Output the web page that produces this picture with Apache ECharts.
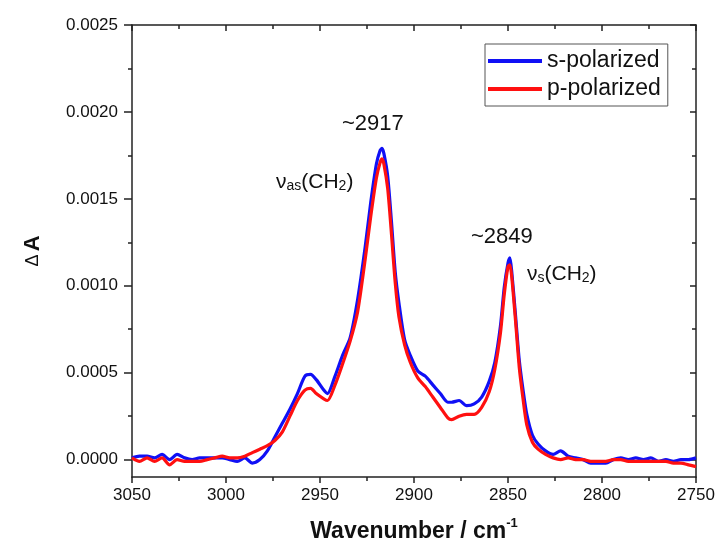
<!DOCTYPE html>
<html>
<head>
<meta charset="utf-8">
<script src="https://cdn.jsdelivr.net/npm/echarts@6/dist/echarts.min.js"></script>
<style>
html,body{margin:0;padding:0;background:#fff;}
#chart{width:718px;height:549px;}
</style>
</head>
<body>
<div id="chart"></div>
<script>
const wavenumbers = [3050,3046,3042,3038,3034,3030,3026,3022,3018,3014,3010,3006,3002,2998,2994,2990,2986,2982,2978,2974,2970,2966,2962,2958,
  2955,2952,2948,2946,2942,2938,2934,2930,2926,2923,2920,2918,2917,2916,2914,2912,2910,2908,2905,2902,2898,
  2894,2890,2886,2882,2880,2876,2872,2868,2864,2860,2857,2854,2852,2850,2849,2848,2846,2844,2842,2840,2837,2834,2830,2826,
  2822,2818,2814,2810,2806,2802,2798,2794,2790,2786,2782,2778,2774,2770,2766,2762,2758,2754,2750];

const sPolarized = [0.00001,0.00002,0.00002,0.00001,0.00003,0.0,0.00003,0.00001,0.0,0.00001,0.00001,0.00001,0.00001,0.0,-0.00001,0.00001,-0.00002,0.0,0.00005,0.00013,0.00021,0.00029,0.00038,0.00048,
  0.00049,0.00046,0.0004,0.00038,0.00048,0.0006,0.0007,0.00092,0.00122,0.00148,0.0017,0.00178,0.00179,0.00176,0.00163,0.00137,0.00108,0.0009,0.00069,0.0006,0.00051,
  0.00048,0.00043,0.00038,0.00033,0.00033,0.00034,0.00031,0.00032,0.00036,0.00045,0.00056,0.00077,0.00099,0.00113,0.00116,0.00108,0.00083,0.00057,0.0004,0.00026,0.00014,0.00009,0.00005,0.00003,
  0.00005,0.00002,0.00001,0.0,-0.00002,-0.00002,-0.00002,0.0,0.00001,0.0,0.00001,0.0,0.00001,-0.00001,0.0,-0.00001,0.0,0.0,0.00001];

const pPolarized = [0.00001,-0.00001,0.00001,-0.00001,0.00001,-0.00003,0.0,-0.00001,-0.00001,-0.00001,0.0,0.00001,0.00002,0.00001,0.00001,0.00002,0.00004,0.00006,0.00008,0.00011,0.00016,0.00025,0.00034,0.0004,
  0.00041,0.00038,0.00035,0.00034,0.00043,0.00055,0.00068,0.00085,0.00115,0.0014,0.00162,0.00171,0.00173,0.0017,0.00156,0.0013,0.00102,0.00082,0.00066,0.00056,0.00047,
  0.00042,0.00036,0.0003,0.00024,0.00023,0.00025,0.00026,0.00026,0.0003,0.00039,0.00052,0.00073,0.00095,0.00111,0.00112,0.00105,0.0008,0.00053,0.00035,0.0002,0.0001,0.00006,0.00003,0.00001,
  0.0,0.00001,0.0,0.0,-0.00001,-0.00001,-0.00001,0.0,0.0,-0.00001,-0.00001,-0.00001,-0.00001,-0.00001,-0.00001,-0.00002,-0.00002,-0.00003,-0.00004];

const yMajorTicks = [0, 0.0005, 0.0010, 0.0015, 0.0020, 0.0025];
const yMinorTicks = [0.00025, 0.00075, 0.00125, 0.00175, 0.00225];
const seriesNames = ['s-polarized', 'p-polarized'];

const axisColor = '#222';
const FONT = 'Liberation Sans, Arial, sans-serif';

const chart = echarts.init(document.getElementById('chart'), null, {renderer: 'canvas'});

const xBase = {
  type: 'value', min: 2750, max: 3050, interval: 50, inverse: true,
  splitLine: {show: false},
  axisLine: {show: true, onZero: false, lineStyle: {color: axisColor, width: 1.5}}
};
const yBase = {
  type: 'value', min: -0.0001, max: 0.0025,
  splitLine: {show: false}, minorTick: {show: false}
};

const option = {
  animation: false,
  backgroundColor: '#fff',
  grid: {left: 132, right: 22, top: 25, bottom: 72, containLabel: false},
  legend: {
    data: seriesNames,
    orient: 'vertical',
    left: 485, top: 44,
    padding: [5, 7, 5, 3],
    itemGap: 4,
    itemWidth: 54, itemHeight: 4,
    icon: 'rect',
    borderColor: '#555', borderWidth: 1,
    textStyle: {fontFamily: FONT, fontSize: 23, color: '#111', lineHeight: 24}
  },
  xAxis: [
    Object.assign({}, xBase, {
      position: 'bottom',
      name: '{t|Wavenumber / cm}{s|-1}',
      nameLocation: 'middle', nameGap: 40,
      nameTextStyle: {rich: {
        t: {fontFamily: FONT, fontSize: 23, fontWeight: 'bold', color: '#111', lineHeight: 26, verticalAlign: 'bottom'},
        s: {fontFamily: FONT, fontSize: 13, fontWeight: 'bold', color: '#111', lineHeight: 12, verticalAlign: 'top'}
      }},
      axisTick: {show: true, inside: false, length: 6, lineStyle: {color: axisColor, width: 1.5}},
      minorTick: {show: true, splitNumber: 2, length: 4, lineStyle: {color: axisColor, width: 1.5}},
      axisLabel: {show: true, margin: 10, fontFamily: FONT, fontSize: 17, color: '#111',
        formatter: v => String(v)}
    }),
    Object.assign({}, xBase, {
      position: 'top',
      axisTick: {show: true, inside: true, length: 6, lineStyle: {color: axisColor, width: 1.5}},
      minorTick: {show: true, splitNumber: 2, length: 4, lineStyle: {color: axisColor, width: 1.5}},
      axisLabel: {show: false}
    })
  ],
  yAxis: [
    Object.assign({}, yBase, {
      position: 'left',
      axisLine: {show: true, onZero: false, lineStyle: {color: axisColor, width: 1.5}},
      axisTick: {show: true, inside: false, length: 8, customValues: yMajorTicks, lineStyle: {color: axisColor, width: 1.5}},
      axisLabel: {show: true, margin: 14, customValues: yMajorTicks, fontFamily: FONT, fontSize: 17, color: '#111',
        formatter: v => v.toFixed(4)},
      name: '{d|Δ} {a|A}',
      nameLocation: 'middle', nameGap: 88, nameRotate: 90,
      nameTextStyle: {rich: {
        d: {fontFamily: FONT, fontSize: 18, color: '#111'},
        a: {fontFamily: FONT, fontSize: 22, fontWeight: 'bold', color: '#111'}
      }}
    }),
    Object.assign({}, yBase, {
      position: 'left',
      axisLine: {show: false},
      axisTick: {show: true, inside: false, length: 4, customValues: yMinorTicks, lineStyle: {color: axisColor, width: 1.5}},
      axisLabel: {show: false}
    }),
    Object.assign({}, yBase, {
      position: 'right',
      axisLine: {show: true, onZero: false, lineStyle: {color: axisColor, width: 1.5}},
      axisTick: {show: true, inside: true, length: 6, customValues: yMajorTicks, lineStyle: {color: axisColor, width: 1.5}},
      axisLabel: {show: false}
    }),
    Object.assign({}, yBase, {
      position: 'right',
      axisLine: {show: false},
      axisTick: {show: true, inside: true, length: 4, customValues: yMinorTicks, lineStyle: {color: axisColor, width: 1.5}},
      axisLabel: {show: false}
    })
  ],
  series: [
    {
      name: seriesNames[0], type: 'line', xAxisIndex: 0, yAxisIndex: 0,
      data: wavenumbers.map((w, i) => [w, sPolarized[i]]),
      showSymbol: false, symbol: 'none', smooth: 0.25,
      lineStyle: {color: '#1010f5', width: 3.2}, itemStyle: {color: '#1010f5'}
    },
    {
      name: seriesNames[1], type: 'line', xAxisIndex: 0, yAxisIndex: 0,
      data: wavenumbers.map((w, i) => [w, pPolarized[i]]),
      showSymbol: false, symbol: 'none', smooth: 0.25,
      lineStyle: {color: '#ff1010', width: 3.2}, itemStyle: {color: '#ff1010'}
    }
  ],
  graphic: [
    {type: 'text', left: 342, top: 113, style: {text: '~2917', fontFamily: FONT, fontSize: 22, fill: '#111'}},
    {type: 'text', left: 276, top: 172, style: {
      text: '{m|ν}{s|as}{m|(CH}{s|2}{m|)}',
      rich: {
        m: {fontFamily: FONT, fontSize: 21, fill: '#111', lineHeight: 24, verticalAlign: 'bottom'},
        s: {fontFamily: FONT, fontSize: 14, fill: '#111', lineHeight: 10, verticalAlign: 'bottom'}
      }}},
    {type: 'text', left: 471, top: 226, style: {text: '~2849', fontFamily: FONT, fontSize: 22, fill: '#111'}},
    {type: 'text', left: 527, top: 264, style: {
      text: '{m|ν}{s|s}{m|(CH}{s|2}{m|)}',
      rich: {
        m: {fontFamily: FONT, fontSize: 21, fill: '#111', lineHeight: 24, verticalAlign: 'bottom'},
        s: {fontFamily: FONT, fontSize: 14, fill: '#111', lineHeight: 10, verticalAlign: 'bottom'}
      }}}
  ]
};
chart.setOption(option);
</script>
</body>
</html>
